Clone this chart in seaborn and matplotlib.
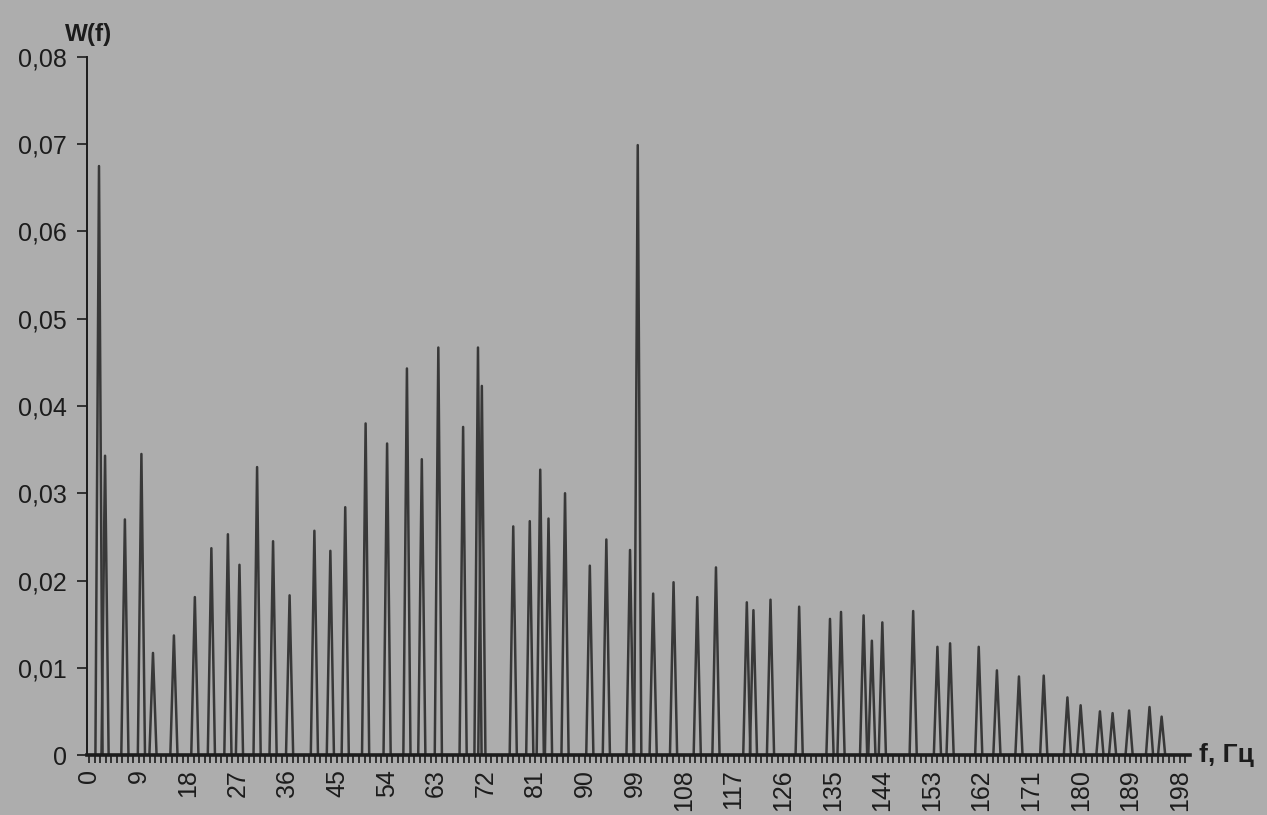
import numpy as np
import pandas as pd
import matplotlib
matplotlib.use("Agg")
import matplotlib.pyplot as plt
import seaborn as sns
from matplotlib.ticker import MultipleLocator, FixedLocator, FuncFormatter

# ---- data (frequency in Hz, spectral power W(f)) ----
peak_freq = [1.8, 2.9, 6.5, 9.5, 11.6, 15.4, 19.2, 22.2, 25.2, 27.3, 30.5, 33.4,
             36.4, 40.9, 43.8, 46.5, 50.2, 54.1, 57.7, 60.4, 63.4, 67.9, 70.6,
             71.3, 77.0, 80.0, 81.9, 83.4, 86.4, 90.9, 93.9, 98.2, 99.6, 102.4,
             106.1, 110.4, 113.8, 119.4, 120.6, 123.7, 128.9, 134.5, 136.5,
             140.6, 142.1, 144.0, 149.6, 154.0, 156.3, 161.5, 164.8, 168.8,
             173.3, 177.6, 180.0, 183.5, 185.8, 188.8, 192.5, 194.7]
peak_power = [0.0675, 0.0343, 0.0270, 0.0345, 0.0117, 0.0137, 0.0181, 0.0237,
              0.0253, 0.0218, 0.0330, 0.0245, 0.0183, 0.0257, 0.0234, 0.0284,
              0.0380, 0.0357, 0.0443, 0.0339, 0.0467, 0.0376, 0.0467, 0.0423,
              0.0262, 0.0268, 0.0327, 0.0271, 0.0300, 0.0217, 0.0247, 0.0235,
              0.0699, 0.0185, 0.0198, 0.0181, 0.0215, 0.0175, 0.0166, 0.0178,
              0.0170, 0.0156, 0.0164, 0.0160, 0.0131, 0.0152, 0.0165, 0.0124,
              0.0128, 0.0124, 0.0097, 0.0090, 0.0091, 0.0066, 0.0057, 0.0050,
              0.0048, 0.0051, 0.0055, 0.0044]
x_tick_values = list(range(0, 199, 9))
y_tick_values = [0, 0.01, 0.02, 0.03, 0.04, 0.05, 0.06, 0.07, 0.08]
x_title = "f, Гц"
y_title = "W(f)"

# ---- styling ----
BG = "#adadad"
INK = "#1c1c1c"
LINE = "#383838"
HALF_WIDTH = 0.65

sns.set_theme(style="white")
plt.rcParams["font.family"] = ["Liberation Sans", "DejaVu Sans"]

rows = []
for i, (f, w) in enumerate(zip(peak_freq, peak_power)):
    rows.append((i, f - HALF_WIDTH, 0.0))
    rows.append((i, f, w))
    rows.append((i, f + HALF_WIDTH, 0.0))
df = pd.DataFrame(rows, columns=["peak", "f", "W"])

fig = plt.figure(figsize=(12.67, 8.15), dpi=100, facecolor=BG)
ax = fig.add_axes([0.069, 0.0736, 0.870, 0.8565])
ax.set_facecolor(BG)

sns.lineplot(data=df, x="f", y="W", units="peak", estimator=None, sort=False,
             color=LINE, linewidth=1.8, ax=ax, legend=False)

ax.set_xlim(-0.3, 199.8)
ax.set_ylim(0, 0.08)

for s in ["top", "right"]:
    ax.spines[s].set_visible(False)
ax.spines["left"].set_color(INK)
ax.spines["left"].set_linewidth(1.4)
ax.spines["bottom"].set_color(INK)
ax.spines["bottom"].set_linewidth(2.6)

ax.xaxis.set_major_locator(FixedLocator(x_tick_values))
ax.xaxis.set_minor_locator(MultipleLocator(1))
ax.set_xticklabels([str(v) for v in x_tick_values], rotation=90)
ax.yaxis.set_major_locator(FixedLocator(y_tick_values))
ax.yaxis.set_major_formatter(FuncFormatter(
    lambda v, p: "0" if abs(v) < 1e-12 else f"{v:.2f}".replace(".", ",")))

ax.tick_params(axis="x", which="both", direction="out", length=6, width=1.2,
               color=INK, bottom=True, labelsize=18, labelcolor=INK, pad=4)
ax.tick_params(axis="y", which="major", direction="out", length=7, width=1.2,
               color=INK, left=True, labelsize=18, labelcolor=INK, pad=8)

ax.set_xlabel("")
ax.set_ylabel("")
fig.text(0.051, 0.958, y_title, fontsize=17.5, fontweight="bold", color=INK,
         ha="left", va="center")
fig.text(0.946, 0.0736, x_title, fontsize=19, fontweight="bold", color=INK,
         ha="left", va="center")

fig.savefig("out.png", dpi=100, facecolor=BG)
